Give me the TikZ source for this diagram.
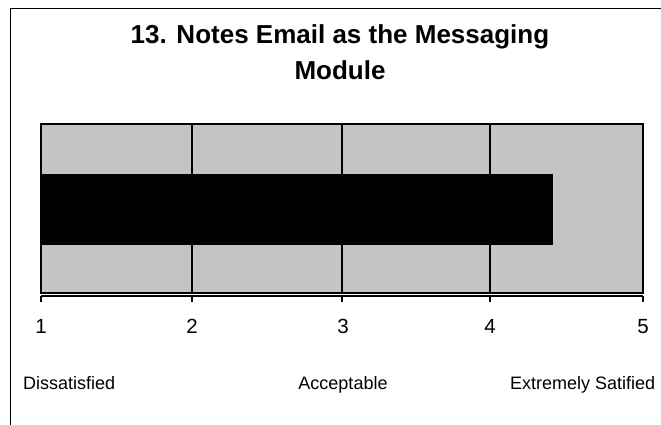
\documentclass[tikz,border=0pt]{standalone}
\usepackage{fontspec}
\setmainfont{Liberation Sans}
\usepackage{tikz}
\usetikzlibrary{positioning}
\tikzstyle{frame} = [line width=1pt]
\tikzstyle{plotarea} = [fill=black!23, draw=black, line width=2pt]
\tikzstyle{ratingbar} = [fill=black, draw=none]
\tikzstyle{gridline} = [line width=1.5pt]
\tikzstyle{axisline} = [line width=1.5pt]
\tikzstyle{charttitle} = [font=\fontsize{26}{26}\selectfont\bfseries, anchor=base, inner sep=0pt]
\tikzstyle{ticklabel} = [font=\fontsize{20.5}{20.5}\selectfont, anchor=base, inner sep=0pt]
\tikzstyle{catlabel} = [font=\fontsize{18}{18}\selectfont, anchor=base, inner sep=0pt]

\begin{document}
\begin{tikzpicture}[x=1pt, y=-1pt]
    \useasboundingbox (0,0) rectangle (661,424);
    \draw [frame] (10.5,440) -- (10.5,8) -- (680,8);

    \node (title) [charttitle] at (340,43) {13. Notes Email as the Messaging};
    \node (titlemore) [charttitle] at (340,79) {Module};

    \draw [plotarea] (41,124) rectangle (643,293);
    \fill [ratingbar] (41,174) rectangle (553,245);
    \draw [gridline] (192,124) -- (192,174);
    \draw [gridline] (342,124) -- (342,174);
    \draw [gridline] (490,124) -- (490,174);
    \draw [gridline] (192,245) -- (192,293);
    \draw [gridline] (342,245) -- (342,293);
    \draw [gridline] (490,245) -- (490,293);
    \draw [plotarea, fill=none] (41,124) rectangle (643,293);

    % axis below the plot
    \draw [axisline] (41,296) -- (643,296);
    \draw [axisline] (41,296) -- (41,302);
    \draw [axisline] (192,296) -- (192,302);
    \draw [axisline] (342,296) -- (342,302);
    \draw [axisline] (490,296) -- (490,302);
    \draw [axisline] (643,296) -- (643,302);

    \node (one) [ticklabel] at (41,333) {1};
    \node (two) [ticklabel] at (192,333) {2};
    \node (three) [ticklabel] at (343,333) {3};
    \node (four) [ticklabel] at (490,333) {4};
    \node (five) [ticklabel] at (643,333) {5};

    \node (low) [catlabel, anchor=base west] at (23,389) {Dissatisfied};
    \node (mid) [catlabel] at (343,389) {Acceptable};
    \node (high) [catlabel, anchor=base west] at (510,389) {Extremely Satified};

\end{tikzpicture}
\end{document}
